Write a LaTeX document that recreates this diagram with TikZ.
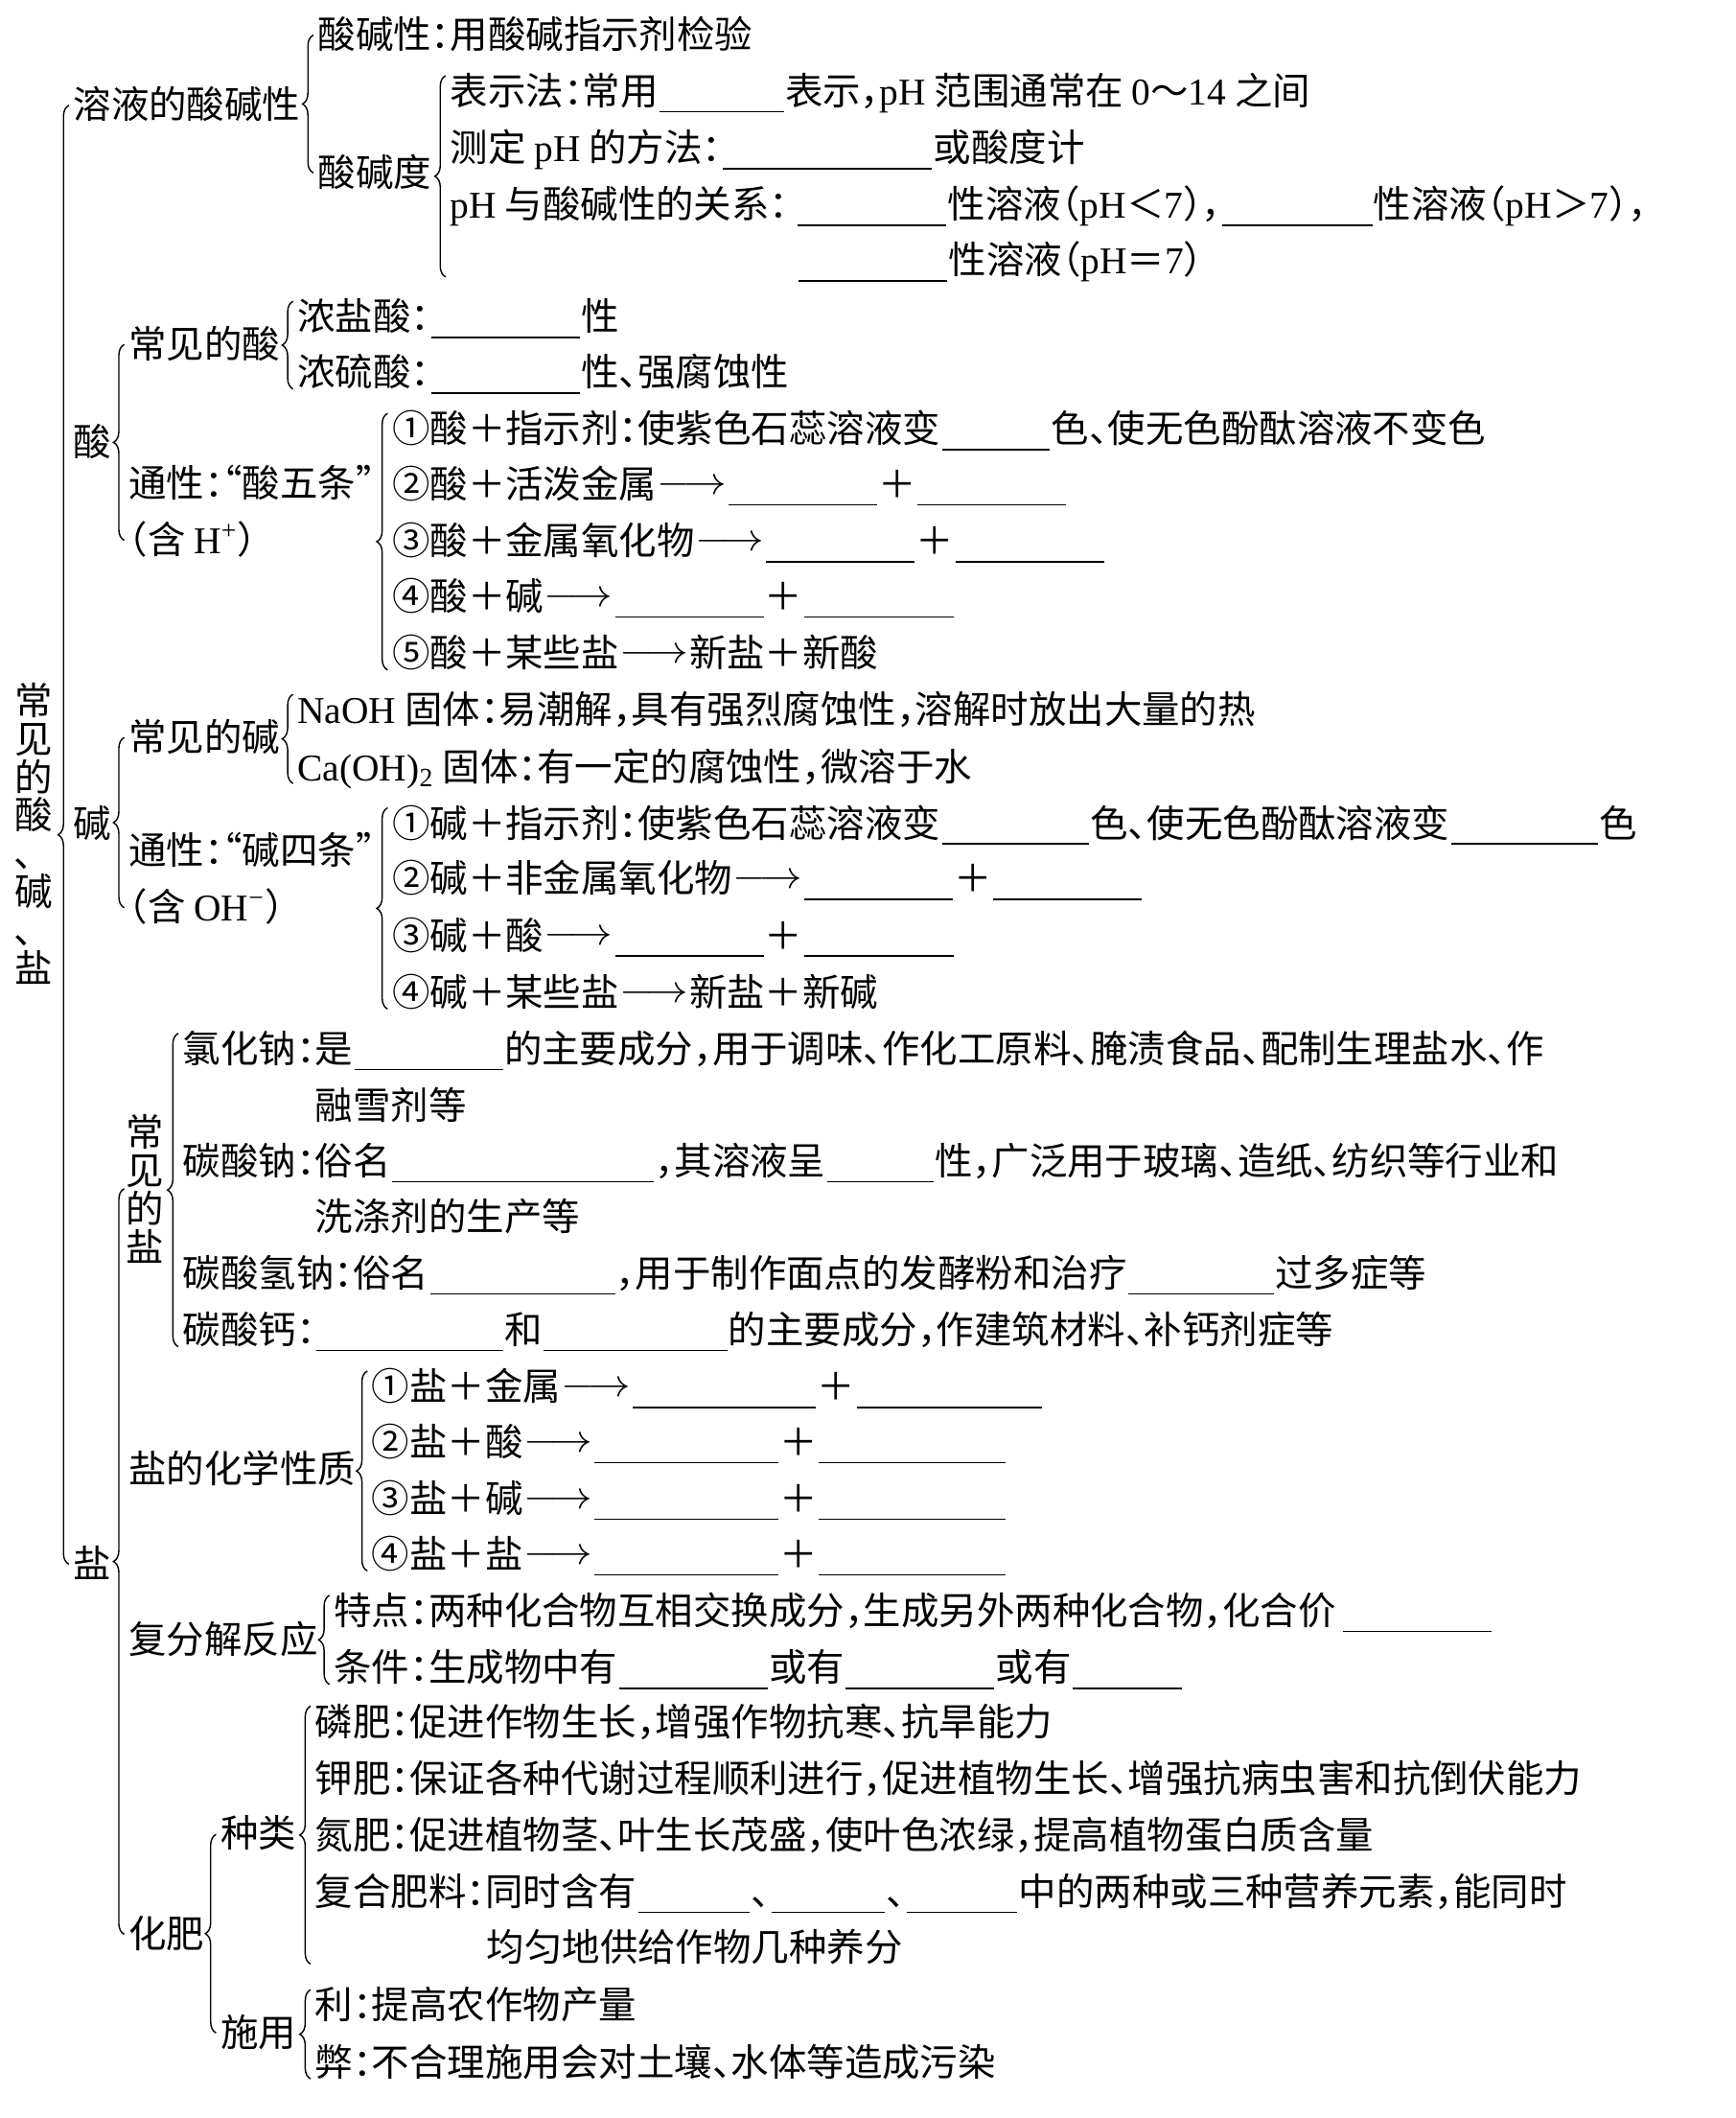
\documentclass[tikz,border=0pt]{standalone}
\usepackage{fontspec}
\setmainfont{Noto Sans CJK SC}[RawFeature=+halt]
\newfontfamily\lat{Liberation Serif}
\usepackage{graphicx}
\usetikzlibrary{calc,decorations.pathreplacing}

\newlength{\unitw}\setlength{\unitw}{0.5pt}
\newcommand{\blank}[1]{\hspace{0.5pt}\rule[-2.8pt]{#1\unitw}{0.6pt}\hspace{0.5pt}}
\newcommand{\arr}{\makebox[26pt]{\raisebox{1.5pt}{\scalebox{1.1}[1]{$\longrightarrow$}}}}
\newcommand{\vdun}{\hspace*{-8pt}、}

\begin{document}
\begin{tikzpicture}[x=0.5pt, y=-0.5pt,
    txt/.style={anchor=west, inner sep=0pt, text height=11.9pt, text depth=2.1pt,
        font=\fontsize{14pt}{17pt}\selectfont},
    vtxt/.style={align=center, inner sep=0pt, font=\fontsize{14pt}{14.15pt}\selectfont},
    brc/.style={decorate, decoration={brace, amplitude=4pt}, line width=0.5pt}]
    \fill[white] (0,0) rectangle (1285,1568);
    \useasboundingbox (0,0) rectangle (1285,1568);

    \node[vtxt] (title) at (25,617) {常\\见\\的\\酸\\\vdun\\碱\\\vdun\\盐};
    \node[txt] (rongye) at (54,78) {溶液的酸碱性};
    \node[txt] (suan) at (54,328) {酸};
    \node[txt] (jian) at (54,610) {碱};
    \node[txt] (yan) at (54,1158) {盐};
    \draw[brc] ($(yan.west)+(-3,0)$) -- ($(rongye.west)+(-3,0)$);

    % 溶液的酸碱性
    \node[txt] (sjx) at (235,26) {酸碱性：用酸碱指示剂检验};
    \node[txt] (sjd) at (235,128) {酸碱度};
    \draw[brc] ($(sjd.west)+(-3,0)$) -- ($(sjx.west)+(-3,0)$);
    \node[txt] (bsf) at (333,68) {表示法：常用\blank{92}表示，{\lat pH} 范围通常在 {\lat 0}～{\lat 14} 之间};
    \node[txt] (cdf) at (333,110) {测定 {\lat pH} 的方法：\blank{155}或酸度计};
    \node[txt] (gx1) at (333,152) {{\lat pH} 与酸碱性的关系：\hspace{3pt}\blank{110}性溶液（{\lat pH}＜{\lat 7}），\blank{111}性溶液（{\lat pH}＞{\lat 7}），};
    \node[txt] (gx2) at (590,193) {\blank{110}性溶液（{\lat pH}＝{\lat 7}）};
    \draw[brc] ($(bsf.west |- gx2.west)+(-3,12)$) -- ($(bsf.west)+(-3,-12)$);

    % 酸
    \node[txt] (cjs) at (95,255) {常见的酸};
    \node[txt] (tys1) at (95,358) {通性：“酸五条”};
    \node[txt] (tys2) at (95,400) {（含 {\lat H\textsuperscript{+}}）};
    \draw[brc] ($(tys2.west)+(-3,0)$) -- ($(cjs.west)+(-3,0)$);
    \node[txt] (nys) at (220,235) {浓盐酸：\blank{110}性};
    \node[txt] (nls) at (220,276) {浓硫酸：\blank{110}性、强腐蚀性};
    \draw[brc] ($(nls.west)+(-3,12)$) -- ($(nys.west)+(-3,-12)$);
    \foreach \nm/\yy/\tx in {
        sp1/318/{①酸＋指示剂：使紫色石蕊溶液变\blank{80}色、使无色酚酞溶液不变色},
        sp2/359/{②酸＋活泼金属\arr\blank{110}＋\blank{110}},
        sp3/401/{③酸＋金属氧化物\arr\blank{110}＋\blank{110}},
        sp4/442/{④酸＋碱\arr\blank{110}＋\blank{111}},
        sp5/484/{⑤酸＋某些盐\arr 新盐＋新酸}}
        \node[txt] (\nm) at (290,\yy) {\tx};
    \draw[brc] ($(sp5.west)+(-3,12)$) -- ($(sp1.west)+(-3,-12)$);

    % 碱
    \node[txt] (cjj) at (95,546) {常见的碱};
    \node[txt] (tyj1) at (95,630) {通性：“碱四条”};
    \node[txt] (tyj2) at (95,672) {（含 {\lat OH\textsuperscript{−}}）};
    \draw[brc] ($(tyj2.west)+(-3,0)$) -- ($(cjj.west)+(-3,0)$);
    \node[txt] (naoh) at (220,526) {{\lat NaOH} 固体：易潮解，具有强烈腐蚀性，溶解时放出大量的热};
    \node[txt] (caoh) at (220,568) {{\lat Ca(OH)\textsubscript{2}} 固体：有一定的腐蚀性，微溶于水};
    \draw[brc] ($(caoh.west)+(-3,12)$) -- ($(naoh.west)+(-3,-12)$);
    \foreach \nm/\yy/\tx in {
        jp1/610/{①碱＋指示剂：使紫色石蕊溶液变\blank{109}色、使无色酚酞溶液变\blank{109}色},
        jp2/651/{②碱＋非金属氧化物\arr\blank{110}＋\blank{110}},
        jp3/693/{③碱＋酸\arr\blank{110}＋\blank{111}},
        jp4/735/{④碱＋某些盐\arr 新盐＋新碱}}
        \node[txt] (\nm) at (290,\yy) {\tx};
    \draw[brc] ($(jp4.west)+(-3,12)$) -- ($(jp1.west)+(-3,-12)$);

    % 盐
    \node[vtxt] (cjy) at (107,880) {常\\见\\的\\盐};
    \node[txt] (yhx) at (95,1088) {盐的化学性质};
    \node[txt] (ffj) at (95,1214) {复分解反应};
    \node[txt] (fl) at (95,1432) {化肥};
    \draw[brc] ($(fl.west)+(-3,0)$) -- ($(fl.west |- cjy.west)+(-3,0)$);
    \node[txt] (lhn) at (135,777) {氯化钠：是\blank{110}的主要成分，用于调味、作化工原料、腌渍食品、配制生理盐水、作};
    \node[txt] (lhn2) at (233,819) {融雪剂等};
    \node[txt] (tsn) at (135,860) {碳酸钠：俗名\blank{194}，其溶液呈\blank{79}性，广泛用于玻璃、造纸、纺织等行业和};
    \node[txt] (tsn2) at (233,901) {洗涤剂的生产等};
    \node[txt] (tsqn) at (135,943) {碳酸氢钠：俗名\blank{137}，用于制作面点的发酵粉和治疗\blank{108}过多症等};
    \node[txt] (tsg) at (135,985) {碳酸钙：\blank{138}和\blank{136}的主要成分，作建筑材料、补钙剂症等};
    \draw[brc] ($(tsg.west)+(-3,12)$) -- ($(lhn.west)+(-3,-12)$);
    \foreach \nm/\yy/\tx in {
        yp1/1027/{①盐＋金属\arr\blank{136}＋\blank{137}},
        yp2/1068/{②盐＋酸\arr\blank{136}＋\blank{138}},
        yp3/1110/{③盐＋碱\arr\blank{136}＋\blank{138}},
        yp4/1151/{④盐＋盐\arr\blank{136}＋\blank{138}}}
        \node[txt] (\nm) at (275,\yy) {\tx};
    \draw[brc] ($(yp4.west)+(-3,12)$) -- ($(yp1.west)+(-3,-12)$);
    \node[txt] (td) at (247,1193) {特点：两种化合物互相交换成分，生成另外两种化合物，化合价\hspace{2pt}\blank{110}};
    \node[txt] (tj) at (247,1235) {条件：生成物中有\blank{110}或有\blank{110}或有\blank{81}};
    \draw[brc] ($(tj.west)+(-3,12)$) -- ($(td.west)+(-3,-12)$);

    % 化肥
    \node[txt] (zl) at (163,1358) {种类};
    \node[txt] (sy) at (163,1505) {施用};
    \draw[brc] ($(sy.west)+(-3,0)$) -- ($(zl.west)+(-3,0)$);
    \node[txt] (lf) at (233,1275) {磷肥：促进作物生长，增强作物抗寒、抗旱能力};
    \node[txt] (jf) at (233,1317) {钾肥：保证各种代谢过程顺利进行，促进植物生长、增强抗病虫害和抗倒伏能力};
    \node[txt] (df) at (233,1359) {氮肥：促进植物茎、叶生长茂盛，使叶色浓绿，提高植物蛋白质含量};
    \node[txt] (fhf) at (233,1401) {复合肥料：同时含有\blank{83}、\blank{84}、\blank{82}中的两种或三种营养元素，能同时};
    \node[txt] (fhf2) at (360,1442) {均匀地供给作物几种养分};
    \draw[brc] ($(lf.west |- fhf2.west)+(-3,12)$) -- ($(lf.west)+(-3,-12)$);
    \node[txt] (li) at (233,1485) {利：提高农作物产量};
    \node[txt] (bi) at (233,1527) {弊：不合理施用会对土壤、水体等造成污染};
    \draw[brc] ($(bi.west)+(-3,12)$) -- ($(li.west)+(-3,-12)$);
\end{tikzpicture}
\end{document}
